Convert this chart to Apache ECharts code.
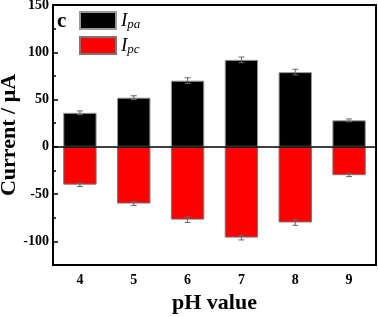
<!DOCTYPE html>
<html>
<head>
<meta charset="utf-8">
<script src="https://cdn.jsdelivr.net/npm/echarts@6/dist/echarts.min.js"></script>
<style>
  html, body { margin: 0; padding: 0; background: #fff; }
  #main { width: 378px; height: 317px; }
</style>
</head>
<body>
<div id="main"></div>
<script>
// 数据
const phValues = ["4", "5", "6", "7", "8", "9"];
const ipa = [36, 52, 70, 92, 79, 28];
const ipaErr = [2, 2, 3, 3, 3, 1.5];
const ipc = [-40, -60, -77, -96, -80, -30];
const ipcErr = [2, 2, 3, 2.5, 3, 1.5];
// y轴刻度
const yMajorTicks = [-100, -50, 0, 50, 100, 150];
const yMinorTicks = [-125, -75, -25, 25, 75, 125];

const font = '"Liberation Serif", "Times New Roman", serif';

(function () {
  let myChart = echarts.init(document.getElementById("main"));

  // 误差棒
  function errorBar(params, api) {
    let x = api.value(0);
    let v = api.value(1);
    let e = api.value(2);
    let hi = api.coord([x, v + e]);
    let lo = api.coord([x, v - e]);
    let cap = 3;
    let style = { stroke: "#666", lineWidth: 1 };
    return {
      type: "group",
      children: [
        { type: "line", shape: { x1: hi[0], y1: hi[1], x2: lo[0], y2: lo[1] }, style: style },
        { type: "line", shape: { x1: hi[0] - cap, y1: hi[1], x2: hi[0] + cap, y2: hi[1] }, style: style },
        { type: "line", shape: { x1: lo[0] - cap, y1: lo[1], x2: lo[0] + cap, y2: lo[1] }, style: style },
      ],
    };
  }

  let option = {
    animation: false,
    textStyle: { fontFamily: font },
    title: {
      text: "c",
      left: 57,
      top: 11,
      padding: 0,
      textStyle: { fontFamily: font, fontSize: 21, fontWeight: "bold", color: "#000" },
    },
    legend: {
      orient: "vertical",
      left: 79,
      top: 11,
      padding: 0,
      itemWidth: 36,
      itemHeight: 17,
      itemGap: 5,
      icon: "rect",
      data: ["Ipa", "Ipc"],
      formatter: function (name) {
        return "{i|I}{s|" + name.slice(1) + "}";
      },
      textStyle: {
        rich: {
          i: { fontFamily: font, fontSize: 19, fontStyle: "italic", color: "#000" },
          s: { fontFamily: font, fontSize: 13, fontStyle: "italic", color: "#000", padding: [8, 0, 0, 0] },
        },
      },
    },
    grid: {
      left: 53,
      right: 2,
      top: 5,
      bottom: 52,
      outerBoundsMode: "none",
      containLabel: false,
      show: true,
      borderColor: "#000",
      borderWidth: 2,
      backgroundColor: "transparent",
    },
    xAxis: [
      {
        type: "category",
        data: phValues,
        name: "pH value",
        nameLocation: "middle",
        nameGap: 27,
        nameMoveOverlap: false,
        nameTextStyle: { fontFamily: font, fontSize: 22, fontWeight: "bold", color: "#000" },
        axisLine: { onZero: false, lineStyle: { color: "#000", width: 2 } },
        axisTick: { alignWithLabel: true, inside: true, length: 5, lineStyle: { color: "#000", width: 1.5 } },
        axisLabel: { fontFamily: font, fontSize: 14, fontWeight: "bold", color: "#000", margin: 8 },
        splitLine: { show: false },
      },
      {
        // 类别之间的短刻度
        type: "category",
        data: phValues,
        position: "bottom",
        axisLine: { show: false, onZero: false },
        axisTick: { alignWithLabel: false, inside: true, length: 3, lineStyle: { color: "#000", width: 1.5 } },
        axisLabel: { show: false },
        splitLine: { show: false },
      },
    ],
    yAxis: [
      {
        type: "value",
        min: -125,
        max: 150,
        name: "Current / μA",
        nameLocation: "middle",
        nameGap: 33,
        nameMoveOverlap: false,
        nameTextStyle: { fontFamily: font, fontSize: 22, fontWeight: "bold", color: "#000" },
        axisLine: { show: true, lineStyle: { color: "#000", width: 2 } },
        axisTick: { show: true, inside: true, length: 5, customValues: yMajorTicks, lineStyle: { color: "#000", width: 1.5 } },
        axisLabel: { customValues: yMajorTicks, fontFamily: font, fontSize: 14, fontWeight: "bold", color: "#000", margin: 4 },
        splitLine: { show: false },
      },
      {
        // 次刻度
        type: "value",
        min: -125,
        max: 150,
        position: "left",
        axisLine: { show: false },
        axisTick: { show: true, inside: true, length: 3, customValues: yMinorTicks, lineStyle: { color: "#000", width: 1.5 } },
        axisLabel: { show: false },
        splitLine: { show: false },
      },
    ],
    series: [
      {
        name: "Ipa",
        type: "bar",
        stack: "i",
        barWidth: "62%",
        data: ipa,
        itemStyle: { color: "#000", borderColor: "#999", borderWidth: 1 },
        markLine: {
          silent: true,
          symbol: "none",
          label: { show: false },
          lineStyle: { color: "#000", width: 1.5, type: "solid" },
          data: [{ yAxis: 0 }],
        },
      },
      {
        name: "Ipc",
        type: "bar",
        stack: "i",
        barWidth: "62%",
        data: ipc,
        itemStyle: { color: "#ff0000", borderColor: "#777", borderWidth: 1 },
      },
      {
        type: "custom",
        renderItem: errorBar,
        data: phValues.map((c, i) => [i, ipa[i], ipaErr[i]]),
        z: 5,
      },
      {
        type: "custom",
        renderItem: errorBar,
        data: phValues.map((c, i) => [i, ipc[i], ipcErr[i]]),
        z: 5,
      },
    ],
  };

  myChart.setOption(option);
  window.addEventListener("resize", function () {
    myChart.resize();
  });
})();
</script>
</body>
</html>
